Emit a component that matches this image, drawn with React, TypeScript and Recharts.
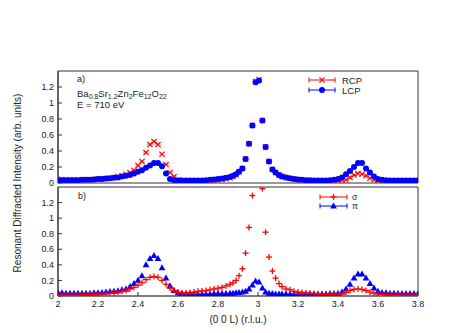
import { ScatterChart, Scatter, XAxis, YAxis, ReferenceArea } from "recharts";

// (0 0 L) positions of the scan points
const L = [
  2.0, 2.02, 2.04, 2.06, 2.08, 2.1, 2.12, 2.14, 2.16, 2.18,
  2.2, 2.22, 2.24, 2.26, 2.28, 2.3, 2.32, 2.34, 2.36, 2.38,
  2.4, 2.42, 2.44, 2.46, 2.48, 2.5, 2.52, 2.54, 2.56, 2.58,
  2.6, 2.62, 2.64, 2.66, 2.68, 2.7, 2.72, 2.74, 2.76, 2.78,
  2.8, 2.82, 2.84, 2.86, 2.875, 2.89, 2.905, 2.922, 2.938, 2.955,
  2.972, 2.988, 3.005, 3.022, 3.038, 3.055, 3.072, 3.088, 3.105, 3.12,
  3.14, 3.16, 3.18, 3.2, 3.22, 3.24, 3.26, 3.28, 3.3, 3.32,
  3.34, 3.36, 3.38, 3.4, 3.42, 3.44, 3.46, 3.48, 3.5, 3.52,
  3.54, 3.56, 3.58, 3.6, 3.62, 3.64, 3.66, 3.68, 3.7, 3.72,
  3.74, 3.76, 3.78, 3.8,
];

const rcp = [
  0.045, 0.045, 0.04, 0.04, 0.04, 0.04, 0.04, 0.04, 0.045, 0.045,
  0.05, 0.05, 0.055, 0.06, 0.07, 0.08, 0.09, 0.11, 0.13, 0.16,
  0.22, 0.27, 0.38, 0.48, 0.52, 0.48, 0.36, 0.23, 0.13, 0.08,
  0.04, 0.03, 0.02, 0.02, 0.02, 0.02, 0.02, 0.025, 0.03, 0.035,
  0.04, 0.045, 0.055, 0.065, 0.08, 0.1, 0.14, 0.18, 0.3, 0.49,
  0.72, 1.27, 1.29, 0.78, 0.45, 0.27, 0.17, 0.13, 0.1, 0.08,
  0.065, 0.055, 0.05, 0.04, 0.035, 0.03, 0.03, 0.03, 0.025, 0.025,
  0.025, 0.025, 0.03, 0.03, 0.035, 0.04, 0.07, 0.1, 0.12, 0.11,
  0.09, 0.06, 0.04, 0.03, 0.025, 0.02, 0.02, 0.02, 0.02, 0.02,
  0.02, 0.02, 0.02, 0.02,
];

const lcp = [
  0.035, 0.035, 0.035, 0.035, 0.035, 0.035, 0.04, 0.04, 0.04, 0.045,
  0.05, 0.05, 0.055, 0.06, 0.065, 0.07, 0.08, 0.09, 0.1, 0.12,
  0.14, 0.16, 0.19, 0.22, 0.25, 0.25, 0.21, 0.12, 0.05, 0.035,
  0.03, 0.03, 0.03, 0.03, 0.03, 0.03, 0.03, 0.035, 0.04, 0.045,
  0.05, 0.055, 0.065, 0.075, 0.09, 0.11, 0.14, 0.18, 0.3, 0.49,
  0.72, 1.26, 1.28, 0.78, 0.45, 0.27, 0.17, 0.13, 0.1, 0.08,
  0.07, 0.06, 0.05, 0.045, 0.04, 0.035, 0.035, 0.03, 0.03, 0.03,
  0.03, 0.035, 0.04, 0.05, 0.07, 0.11, 0.15, 0.2, 0.25, 0.25,
  0.18, 0.13, 0.08, 0.05, 0.04, 0.035, 0.03, 0.03, 0.03, 0.03,
  0.03, 0.03, 0.03, 0.03,
];

const sigma = [
  0.01, 0.01, 0.01, 0.01, 0.01, 0.01, 0.015, 0.015, 0.02, 0.02,
  0.02, 0.025, 0.03, 0.035, 0.04, 0.05, 0.06, 0.07, 0.09, 0.11,
  0.14, 0.17, 0.21, 0.24, 0.25, 0.24, 0.2, 0.15, 0.1, 0.07,
  0.05, 0.04, 0.04, 0.045, 0.05, 0.06, 0.065, 0.07, 0.08, 0.09,
  0.1, 0.11, 0.13, 0.15, 0.17, 0.2, 0.26, 0.35, 0.55, 0.88,
  1.29, 1.75, 1.7, 1.38, 0.82, 0.5, 0.32, 0.23, 0.16, 0.12,
  0.09, 0.08, 0.06, 0.05, 0.045, 0.04, 0.035, 0.03, 0.025, 0.02,
  0.02, 0.02, 0.02, 0.02, 0.03, 0.045, 0.07, 0.085, 0.09, 0.085,
  0.07, 0.05, 0.035, 0.025, 0.02, 0.015, 0.015, 0.01, 0.01, 0.01,
  0.01, 0.01, 0.01, 0.01,
];

const pi = [
  0.04, 0.04, 0.035, 0.035, 0.035, 0.035, 0.035, 0.035, 0.035, 0.04,
  0.04, 0.045, 0.05, 0.055, 0.06, 0.065, 0.08, 0.09, 0.12, 0.16,
  0.2, 0.26, 0.4, 0.48, 0.52, 0.48, 0.36, 0.23, 0.13, 0.07,
  0.04, 0.03, 0.025, 0.025, 0.025, 0.025, 0.025, 0.025, 0.025, 0.03,
  0.03, 0.03, 0.03, 0.035, 0.035, 0.04, 0.045, 0.05, 0.06, 0.09,
  0.14, 0.19, 0.18, 0.1, 0.05, 0.035, 0.03, 0.025, 0.025, 0.025,
  0.025, 0.025, 0.025, 0.025, 0.025, 0.025, 0.025, 0.025, 0.025, 0.025,
  0.025, 0.03, 0.03, 0.035, 0.05, 0.09, 0.15, 0.23, 0.28, 0.28,
  0.23, 0.16, 0.1, 0.06, 0.045, 0.04, 0.035, 0.035, 0.03, 0.03,
  0.03, 0.03, 0.03, 0.03,
];

const xTicks = [2, 2.2, 2.4, 2.6, 2.8, 3, 3.2, 3.4, 3.6, 3.8];
const yTicks = [0, 0.2, 0.4, 0.6, 0.8, 1, 1.2];

const RED = "#ff0000";
const BLUE = "#0000ff";
const FONT = '"Liberation Sans", Arial, Helvetica, sans-serif';

const pts = (vals: number[]) => L.map((l, i) => ({ l, v: vals[i] }));

const XMark = (p: any) => {
  const { cx, cy } = p;
  if (cx == null || cy == null) return <g />;
  const s = 2.6;
  return (
    <g stroke={RED} strokeWidth={1.2}>
      <line x1={cx - 3.5} y1={cy} x2={cx + 3.5} y2={cy} stroke="#ff9999" strokeWidth={0.8} />
      <line x1={cx - s} y1={cy - s} x2={cx + s} y2={cy + s} />
      <line x1={cx - s} y1={cy + s} x2={cx + s} y2={cy - s} />
    </g>
  );
};

const PlusMark = (p: any) => {
  const { cx, cy } = p;
  if (cx == null || cy == null) return <g />;
  const s = 3;
  return (
    <g stroke={RED} strokeWidth={1.3}>
      <line x1={cx - s} y1={cy} x2={cx + s} y2={cy} />
      <line x1={cx} y1={cy - s} x2={cx} y2={cy + s} />
    </g>
  );
};

const Dot = (p: any) => {
  const { cx, cy } = p;
  if (cx == null || cy == null) return <g />;
  return <circle cx={cx} cy={cy} r={3} fill={BLUE} />;
};

const Tri = (p: any) => {
  const { cx, cy } = p;
  if (cx == null || cy == null) return <g />;
  return (
    <polygon
      points={`${cx},${cy - 3.6} ${cx - 3.4},${cy + 2.4} ${cx + 3.4},${cy + 2.4}`}
      fill={BLUE}
    />
  );
};

const tickStyle = { fontSize: 9, fill: "#222", fontFamily: FONT };
const axisStroke = { stroke: "#333" };

function Frame() {
  return (
    <ReferenceArea
      x1={2}
      x2={3.8}
      y1={0}
      y2={1.4}
      fill="none"
      stroke="#333"
      strokeWidth={1}
      ifOverflow="visible"
    />
  );
}

export default function App() {
  return (
    <div
      style={{
        position: "absolute",
        left: 0,
        top: 0,
        width: 476,
        height: 333,
        background: "#fff",
        fontFamily: FONT,
      }}
    >
      <div style={{ position: "absolute", left: 0, top: 0 }}>
        <ScatterChart width={476} height={190} margin={{ top: 71, right: 58, bottom: 7, left: 28 }}>
          <XAxis
            type="number"
            dataKey="l"
            domain={[2, 3.8]}
            ticks={xTicks}
            allowDataOverflow
            height={0}
            tick={false}
            axisLine={{ stroke: "#777", strokeWidth: 1.5 }}
            tickSize={-4}
            tickLine={axisStroke}
          />
          <YAxis
            type="number"
            dataKey="v"
            domain={[0, 1.4]}
            ticks={yTicks}
            allowDataOverflow
            width={30}
            axisLine={axisStroke}
            tickSize={-4}
            tickMargin={8}
            tick={tickStyle}
            tickLine={axisStroke}
            interval={0}
          />
          <YAxis
            yAxisId="r"
            orientation="right"
            type="number"
            domain={[0, 1.4]}
            ticks={yTicks}
            width={0}
            axisLine={axisStroke}
            tick={false}
            tickSize={-4}
            tickLine={axisStroke}
          />
          <Frame />
          <Scatter data={pts(rcp)} shape={XMark} isAnimationActive={false} legendType="none" />
          <Scatter data={pts(lcp)} shape={Dot} isAnimationActive={false} legendType="none" />
        </ScatterChart>
      </div>
      <div style={{ position: "absolute", left: 0, top: 183 }}>
        <ScatterChart width={476} height={150} margin={{ top: 4, right: 58, bottom: 17, left: 28 }}>
          <XAxis
            type="number"
            dataKey="l"
            domain={[2, 3.8]}
            ticks={xTicks}
            allowDataOverflow
            height={20}
            axisLine={{ stroke: "#777", strokeWidth: 1.5 }}
            tickSize={-4}
            tickMargin={9}
            tick={tickStyle}
            tickLine={axisStroke}
            interval={0}
          />
          <YAxis
            type="number"
            dataKey="v"
            domain={[0, 1.4]}
            ticks={yTicks}
            allowDataOverflow
            width={30}
            axisLine={axisStroke}
            tickSize={-4}
            tickMargin={8}
            tick={tickStyle}
            tickLine={axisStroke}
            interval={0}
          />
          <YAxis
            yAxisId="r"
            orientation="right"
            type="number"
            domain={[0, 1.4]}
            ticks={yTicks}
            width={0}
            axisLine={axisStroke}
            tick={false}
            tickSize={-4}
            tickLine={axisStroke}
          />
          <Frame />
          <Scatter data={pts(pi)} shape={Tri} isAnimationActive={false} legendType="none" />
          <Scatter data={pts(sigma)} shape={PlusMark} isAnimationActive={false} legendType="none" />
        </ScatterChart>
      </div>
      <svg
        width={476}
        height={333}
        style={{ position: "absolute", left: 0, top: 0, pointerEvents: "none" }}
        fontFamily={FONT}
        fill="#222"
      >
        <text x={21} y={183} fontSize={10} textAnchor="middle" transform="rotate(-90 21 183)">
          Resonant Diffracted Intensity (arb. units)
        </text>
        <text x={238} y={323} fontSize={10} textAnchor="middle">
          (0 0 L) (r.l.u.)
        </text>
        <text x={77} y={82} fontSize={9}>a)</text>
        <text x={77} y={97} fontSize={9.5}>
          Ba<tspan fontSize={7} dy={2}>0.8</tspan>
          <tspan dy={-2}>Sr</tspan><tspan fontSize={7} dy={2}>1.2</tspan>
          <tspan dy={-2}>Zn</tspan><tspan fontSize={7} dy={2}>2</tspan>
          <tspan dy={-2}>Fe</tspan><tspan fontSize={7} dy={2}>12</tspan>
          <tspan dy={-2}>O</tspan><tspan fontSize={7} dy={2}>22</tspan>
        </text>
        <text x={77} y={108} fontSize={9.5}>E = 710 eV</text>
        <text x={78} y={199} fontSize={9}>b)</text>

        {/* legend, top panel */}
        <g stroke={RED} strokeWidth={1}>
          <line x1={309} y1={80} x2={335} y2={80} />
          <line x1={309} y1={77.5} x2={309} y2={82.5} />
          <line x1={335} y1={77.5} x2={335} y2={82.5} />
        </g>
        <XMark cx={322} cy={80} />
        <text x={342} y={83.5} fontSize={9.5}>RCP</text>
        <g stroke={BLUE} strokeWidth={1}>
          <line x1={309} y1={90} x2={335} y2={90} />
          <line x1={309} y1={87.5} x2={309} y2={92.5} />
          <line x1={335} y1={87.5} x2={335} y2={92.5} />
        </g>
        <Dot cx={322} cy={90} />
        <text x={342} y={93.5} fontSize={9.5}>LCP</text>

        {/* legend, bottom panel */}
        <g stroke={RED} strokeWidth={1}>
          <line x1={320} y1={197} x2={347} y2={197} />
          <line x1={320} y1={194.5} x2={320} y2={199.5} />
          <line x1={347} y1={194.5} x2={347} y2={199.5} />
        </g>
        <PlusMark cx={333.5} cy={197} />
        <text x={352} y={199.5} fontSize={8.5}>σ</text>
        <g stroke={BLUE} strokeWidth={1}>
          <line x1={320} y1={206} x2={347} y2={206} />
          <line x1={320} y1={203.5} x2={320} y2={208.5} />
          <line x1={347} y1={203.5} x2={347} y2={208.5} />
        </g>
        <Tri cx={333.5} cy={206} />
        <text x={352} y={209} fontSize={8.5}>π</text>
      </svg>
    </div>
  );
}
